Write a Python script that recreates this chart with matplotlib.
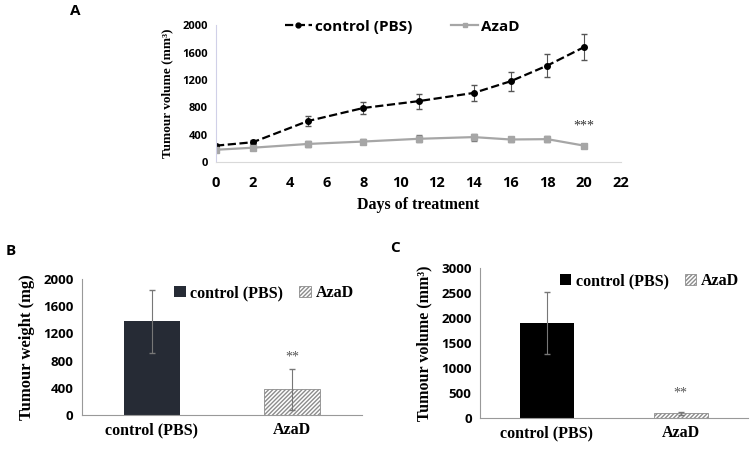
import matplotlib
matplotlib.use("Agg")
import numpy as np
from matplotlib import pyplot as plt
from matplotlib.lines import Line2D

# Panel A: tumour growth over time
days = [0, 2, 5, 8, 11, 14, 16, 18, 20]
ctrl_vol = [240, 290, 600, 790, 890, 1010, 1180, 1410, 1680]
ctrl_err = [30, 30, 70, 90, 110, 120, 140, 170, 190]
aza_vol = [180, 210, 265, 300, 340, 365, 330, 335, 240]
aza_err = [30, 30, 40, 40, 50, 50, 40, 40, 20]

# Panel B: tumour weight
groups = ["control (PBS)", "AzaD"]
weight = [1380, 380]
weight_err = [460, 295]

# Panel C: final tumour volume
final_vol = [1900, 100]
final_err = [620, 25]

SANS = "Open Sans"
SERIF = "Liberation Serif"
GREY = "#a6a6a6"

fig = plt.figure(figsize=(7.5, 4.49), dpi=100)

# ---- Panel A
ax = fig.add_axes([0.288, 0.639, 0.54, 0.305])
ax.errorbar(days, ctrl_vol, yerr=ctrl_err, color="black", ls="--", lw=1.6,
            marker="o", ms=4, ecolor="#555555", elinewidth=0.8, capsize=2)
ax.errorbar(days, aza_vol, yerr=aza_err, color=GREY, ls="-", lw=1.6,
            marker="s", ms=4, ecolor="#777777", elinewidth=0.8, capsize=2)
ax.text(20, 430, "***", ha="center", va="bottom", fontsize=10,
        family=SERIF, color="#333333")
ax.set_xlim(0, 22)
ax.set_ylim(0, 2000)
ax.set_xticks(range(0, 23, 2))
ax.set_yticks(range(0, 2001, 400))
for s in ["top", "right"]:
    ax.spines[s].set_visible(False)
ax.spines["left"].set_color("#d0d0e8")
ax.spines["bottom"].set_color("#d9d9d9")
ax.tick_params(length=0, pad=6)
ax.tick_params(axis="x", pad=10)
for lab in ax.get_xticklabels():
    lab.set_fontfamily(SANS)
    lab.set_fontweight("bold")
    lab.set_fontsize(10.5)
for lab in ax.get_yticklabels():
    lab.set_fontfamily(SANS)
    lab.set_fontweight("bold")
    lab.set_fontsize(8)
ax.set_xlabel("Days of treatment", family=SERIF, fontweight="bold",
              fontsize=11.5, labelpad=5)
ax.set_ylabel("Tumour volume (mm³)", family=SERIF,
              fontweight="bold", fontsize=9.5, labelpad=6)
handles = [
    Line2D([], [], color="black", ls="--", lw=1.6, marker="o", ms=3.5),
    Line2D([], [], color=GREY, ls="-", lw=1.6, marker="s", ms=3.5),
]
ax.legend(handles, groups, loc="center", bbox_to_anchor=(0.46, 0.99), ncol=2,
          frameon=False, prop={"family": SANS, "weight": "bold", "size": 11},
          handlelength=1.8, handletextpad=0.2, columnspacing=2.5)
fig.text(0.094, 0.975, "A", family=SANS, fontweight="bold", fontsize=11,
         va="center")


def bar_panel(rect, vals, errs, ymax, ystep, ylabel, ctrl_color, star_y,
              ylabel_size):
    bx = fig.add_axes(rect)
    x = np.arange(len(groups))
    bx.bar(x[0], vals[0], width=0.4, color=ctrl_color, label=groups[0])
    bx.bar(x[1], vals[1], width=0.4, color="white", edgecolor="#8c8c8c",
           hatch="////////", lw=0.6, label=groups[1])
    bx.errorbar(x, vals, yerr=errs, fmt="none", ecolor="#777777",
                elinewidth=0.8, capsize=2)
    bx.text(x[1], star_y, "**", ha="center", va="bottom", fontsize=10,
            family=SERIF, color="#555555")
    bx.set_xlim(-0.5, 1.5)
    bx.set_ylim(0, ymax)
    bx.set_yticks(np.arange(0, ymax + 1, ystep))
    bx.set_xticks(x)
    bx.set_xticklabels(groups, family=SERIF, fontweight="bold", fontsize=11.5)
    for lab in bx.get_yticklabels():
        lab.set_fontfamily(SANS)
        lab.set_fontweight("bold")
        lab.set_fontsize(9.5)
    for s in ["top", "right"]:
        bx.spines[s].set_visible(False)
    bx.spines["left"].set_color("#999999")
    bx.spines["bottom"].set_color("#999999")
    bx.tick_params(length=0, pad=6)
    bx.tick_params(axis="x", pad=5)
    bx.set_ylabel(ylabel, family=SERIF, fontweight="bold", fontsize=ylabel_size,
                  labelpad=6)
    bx.legend(loc="upper right", bbox_to_anchor=(1.02, 1.06), ncol=2,
              frameon=False, prop={"family": SERIF, "weight": "bold", "size": 11.5},
              handlelength=0.7, handleheight=0.7, handletextpad=0.3,
              columnspacing=1.0)
    return bx


bar_panel([0.109, 0.075, 0.374, 0.304], weight, weight_err, 2000, 400,
          "Tumour weight (mg)", "#262b35", 760, 12)
fig.text(0.008, 0.44, "B", family=SANS, fontweight="bold", fontsize=11,
         va="center")

bar_panel([0.64, 0.068, 0.357, 0.335], final_vol, final_err, 3000, 500,
          "Tumour volume (mm³)", "black", 380, 11.5)
fig.text(0.52, 0.447, "C", family=SANS, fontweight="bold", fontsize=11,
         va="center")

fig.savefig("out.png", dpi=100)
